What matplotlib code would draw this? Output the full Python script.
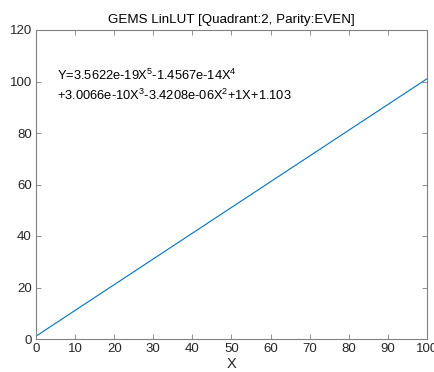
import numpy as np
import matplotlib
matplotlib.use("Agg")
import matplotlib.pyplot as plt

plt.rcParams['font.family'] = ['Liberation Sans', 'DejaVu Sans']
plt.rcParams['mathtext.fontset'] = 'custom'
plt.rcParams['mathtext.rm'] = 'Liberation Sans'
plt.rcParams['mathtext.it'] = 'Liberation Sans'

# fitted LUT polynomial, highest power first
coeffs = [3.5622e-19, -1.4567e-14, 3.0066e-10, -3.4208e-06, 1.0, 1.103]
x_pts = [0, 10, 20, 30, 40, 50, 60, 70, 80, 90, 100]
x_ticks = [0, 10, 20, 30, 40, 50, 60, 70, 80, 90, 100]
y_ticks = [0, 20, 40, 60, 80, 100, 120]

y_pts = np.polyval(coeffs, x_pts)

fig = plt.figure(figsize=(4.35, 3.72), dpi=100)
ax = fig.add_axes([36 / 435, 1 - 339 / 372, 391 / 435, 309 / 372])

ax.plot(x_pts, y_pts, color='#0072BD', lw=0.8)
ax.set_xlim(0, 100)
ax.set_ylim(0, 120)
ax.set_xticks(x_ticks)
ax.set_yticks(y_ticks)

grey = '#262626'
for s in ax.spines.values():
    s.set_color('#808080')
    s.set_linewidth(0.8)
ax.tick_params(direction='in', top=True, right=True, length=3.5, width=0.6,
               colors='#808080', labelcolor=grey, labelsize=9.5, pad=3)

ax.set_xlabel('X', fontsize=10.5, color=grey, labelpad=1)
ax.set_title('GEMS LinLUT [Quadrant:2, Parity:EVEN]', fontsize=9.6, color='black', pad=5)

eq = ('Y=3.5622e-19X$^{\\mathregular{5}}$-1.4567e-14X$^{\\mathregular{4}}$\n'
      '+3.0066e-10X$^{\\mathregular{3}}$-3.4208e-06X$^{\\mathregular{2}}$+1X+1.103')
ax.text(5.3, 98.5, eq, fontsize=9.3, color='black', va='center', ha='left',
        linespacing=1.45)

fig.savefig('out.png', dpi=100)
